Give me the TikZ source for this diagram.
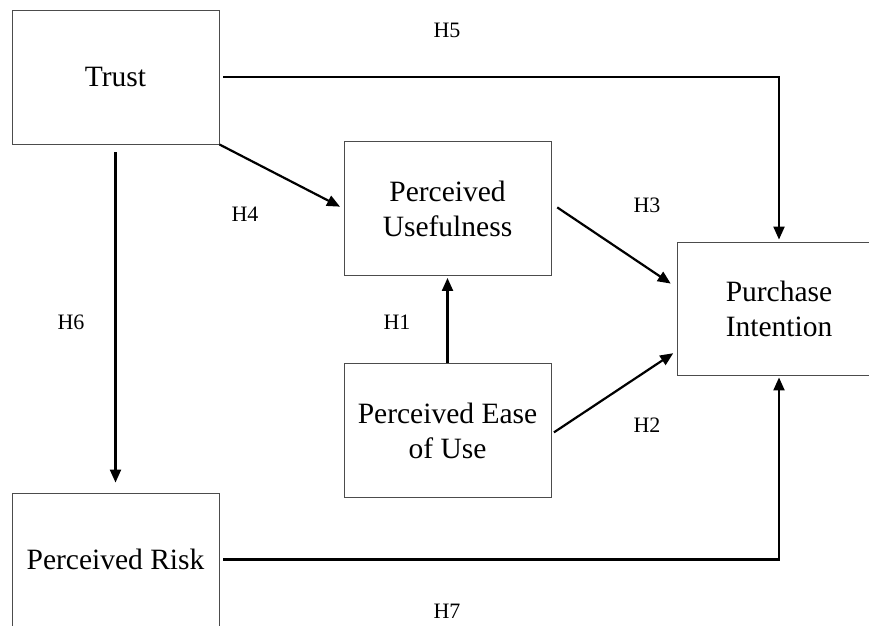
\documentclass[tikz,border=0pt]{standalone}
\usepackage{fontspec}
\setmainfont{Liberation Serif}
\usetikzlibrary{arrows.meta,calc}

\begin{document}
\begin{tikzpicture}[
  x=1pt, y=-1pt,
  >={Triangle[length=13pt,width=11pt]},
  state/.style={draw=black!70, line width=0.9pt, minimum width=207pt,
    minimum height=134pt, align=center, inner sep=0pt,
    font=\fontsize{29.5}{35}\selectfont},
  flow/.style={->, line width=2.2pt, draw=black},
  label/.style={font=\fontsize{22}{26}\selectfont, text=black}
]
\useasboundingbox (0,0) rectangle (869,625);
% constructs
\node[state] (trust) at (115.5,77) {Trust};
\node[state] (pu) at (447.5,208.5) {Perceived\\Usefulness};
\node[state] (peou) at (447.5,430.5) {Perceived Ease\\of Use};
\node[state, minimum width=204pt, minimum height=133pt] (pi) at (779,308.5)
  {Purchase\\Intention};
\node[state, minimum height=133pt] (risk) at (115.5,559.5) {Perceived Risk};

% hypotheses
\draw[flow] ([xshift=4pt]trust.east) -| ([yshift=2pt]pi.north);
\draw[flow, shorten >=4pt] (trust.south east) -- (pu.west);
\draw[flow, shorten <=8pt, shorten >=10pt] (trust.south) -- (risk.north);
\draw[flow, shorten >=2pt] (peou.north) -- (pu.south);
\draw[flow, shorten <=7pt, shorten >=7pt] ($(pu.east)+(0,-5)$) -- ($(pi.west)+(0,-21)$);
\draw[flow, shorten <=3pt, shorten >=4pt] ($(peou.east)+(0,3.5)$) -- ($(pi.west)+(0,42.5)$);
\draw[flow] ([xshift=4pt]risk.east) -| ([yshift=-2pt]pi.south);

\node[label] (h1) at (397,322) {H1};
\node[label] (h2) at (647,425) {H2};
\node[label] (h3) at (647,205) {H3};
\node[label] (h4) at (245,214) {H4};
\node[label] (h5) at (447,30) {H5};
\node[label] (h6) at (71,322) {H6};
\node[label] (h7) at (447,611) {H7};
\end{tikzpicture}
\end{document}
